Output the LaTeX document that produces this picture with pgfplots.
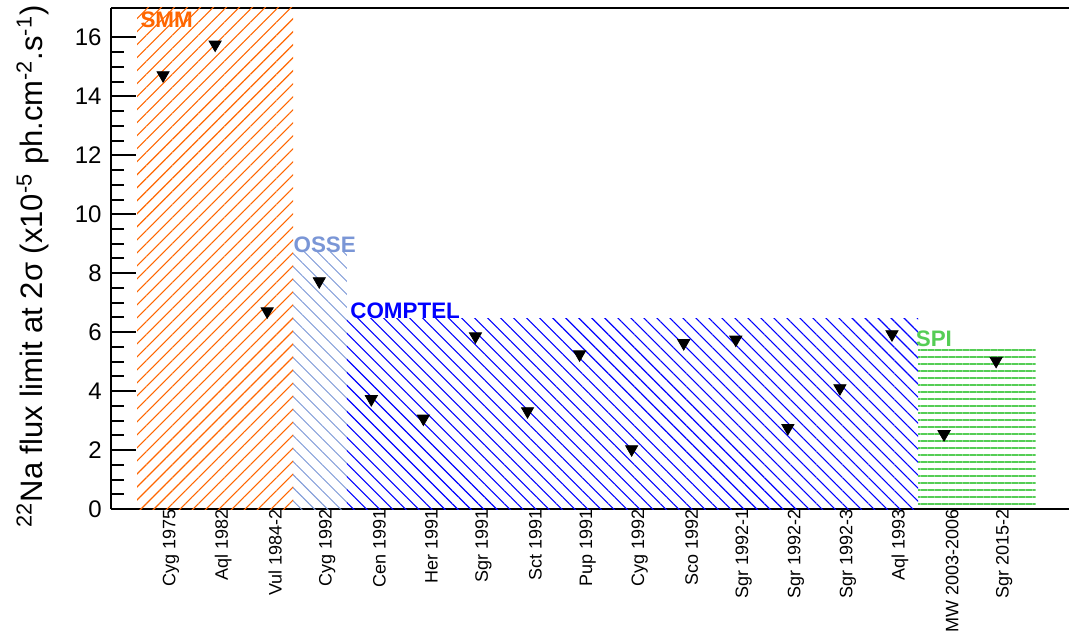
\documentclass[border=0pt]{standalone}
\usepackage{fontspec}
\setmainfont{Liberation Sans}
\usepackage{pgfplots}
\pgfplotsset{compat=1.18}
\usetikzlibrary{patterns.meta}
\definecolor{smm}{RGB}{255,102,0}
\definecolor{osse}{RGB}{122,150,214}
\definecolor{comptel}{RGB}{0,0,255}
\definecolor{spi}{RGB}{85,205,85}
\begin{document}
\begin{tikzpicture}
\begin{axis}[
  scale only axis, width=479pt, height=250.5pt,
  xmin=-1, xmax=17.4, ymin=0, ymax=17,
  axis x line*=box, axis y line*=left,
  axis line style={line width=1.2pt, black},
  xtick={0,...,16},
  xticklabels={Cyg 1975, Aql 1982, Vul 1984-2, Cyg 1992, Cen 1991, Her 1991, Sgr 1991, Sct 1991, Pup 1991, Cyg 1992, Sco 1992, Sgr 1992-1, Sgr 1992-2, Sgr 1992-3, Aql 1993, MW 2003-2006, Sgr 2015-2},
  xtick style={draw=none},
  xticklabel style={rotate=90, anchor=east, font=\fontsize{9}{11}\selectfont, inner sep=0pt, yshift=-4pt},
  ytick={0,2,...,16}, minor y tick num=3,
  tick align=inside, ytick pos=left,
  major tick length=12.5pt, minor tick length=6.5pt,
  every tick/.style={black, line width=1pt},
  yticklabel style={font=\fontsize{12}{14}\selectfont, inner sep=0pt, xshift=-4.5pt},
  /pgf/number format/assume math mode=true,
  ylabel={\fontsize{15.5}{18}\selectfont \textsuperscript{22}Na flux limit at 2σ (x10\textsuperscript{-5} ph.cm\textsuperscript{-2}.s\textsuperscript{-1})},
  ylabel style={at={(axis description cs:-0.072,1.006)}, anchor=base east, inner sep=0pt},
]
\addplot[draw=none, pattern={Lines[angle=45,distance=4.6pt,line width=0.55pt]}, pattern color=smm] coordinates {(-0.5,17) (2.5,17)} \closedcycle;
\addplot[draw=none, pattern={Lines[angle=-45,distance=4.6pt,line width=0.45pt]}, pattern color=osse] coordinates {(2.5,8.69) (3.53,8.69)} \closedcycle;
\addplot[draw=none, pattern={Lines[angle=-45,distance=4.6pt,line width=0.55pt]}, pattern color=comptel] coordinates {(3.53,6.45) (14.5,6.45)} \closedcycle;
\addplot[draw=none, pattern={Lines[angle=0,distance=3.5pt,line width=0.65pt]}, pattern color=spi] coordinates {(14.5,5.45) (16.76,5.45)} \closedcycle;
\addplot[only marks, mark=triangle*, mark size=3.5pt, mark options={rotate=180, fill=black, draw=black}] coordinates {
(0,14.72) (1,15.76) (2,6.71) (3,7.73) (4,3.73) (5,3.07) (6,5.86) (7,3.32) (8,5.25)
(9,2.03) (10,5.63) (11,5.75) (12,2.75) (13,4.10) (14,5.93) (15,2.54) (16,5.03)};
\node[font=\bfseries\fontsize{11.2}{13}\selectfont, text=smm, anchor=base west, inner sep=0pt] at (axis cs:-0.44,16.33) {SMM};
\node[font=\bfseries\fontsize{11.2}{13}\selectfont, text=osse, anchor=base west, inner sep=0pt] at (axis cs:2.5,8.72) {OSSE};
\node[font=\bfseries\fontsize{11.2}{13}\selectfont, text=comptel, anchor=base west, inner sep=0pt] at (axis cs:3.59,6.48) {COMPTEL};
\node[font=\bfseries\fontsize{11.2}{13}\selectfont, text=spi, anchor=base west, inner sep=0pt] at (axis cs:14.45,5.5) {SPI};
\end{axis}
\pgfresetboundingbox
\path ([shift={(-55.5pt,-64pt)}]current axis.south west) rectangle ([shift={(0pt,4pt)}]current axis.north east);
\end{tikzpicture}
\end{document}
